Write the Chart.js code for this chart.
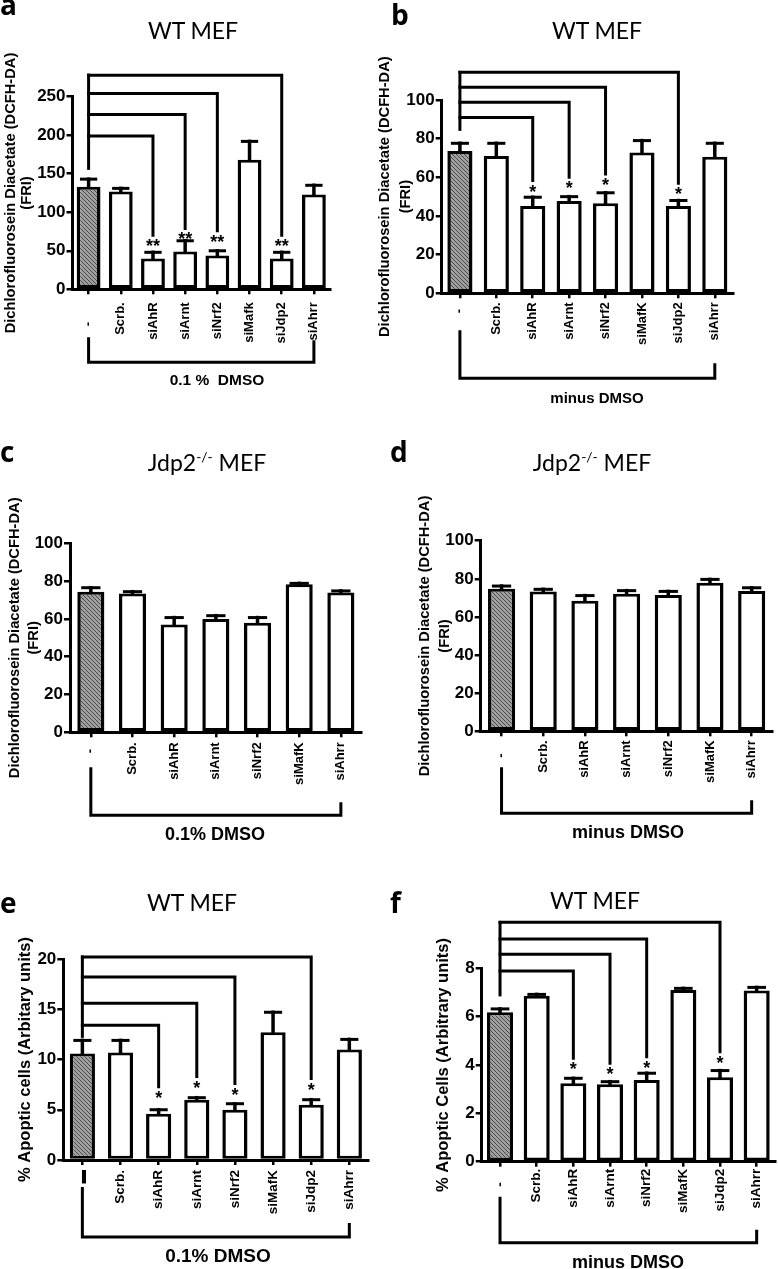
<!DOCTYPE html>
<html>
<head>
<meta charset="utf-8">
<script src="https://cdn.jsdelivr.net/npm/chart.js@4.4.1/dist/chart.umd.min.js"></script>
<style>
    body { margin: 0; background: #fff; }
    #fig { position: relative; width: 778px; height: 1269px; overflow: hidden; font-family: 'Liberation Sans', Arial, sans-serif; color: #000; }
    canvas { position: absolute; }
    .letter { position: absolute; font: bold 28px 'Open Sans', sans-serif; line-height: 28px; }
    .ttl { position: absolute; transform: translate(-50%, -50%); font-family: Lato, sans-serif; font-size: 23px; line-height: 1; white-space: nowrap; }
    .ttl sup { font-size: 60%; vertical-align: 0.6em; line-height: 0; }
    .grp { position: absolute; transform: translate(-50%, -50%); font-weight: bold; line-height: 1; white-space: pre; }
</style>
</head>
<body>
<div id="fig">
    <canvas id="chart-a" width="389" height="400" style="left:0;top:0"></canvas>
    <canvas id="chart-b" width="408" height="410" style="left:370px;top:0"></canvas>
    <canvas id="chart-c" width="389" height="400" style="left:0;top:420px"></canvas>
    <canvas id="chart-d" width="378" height="400" style="left:400px;top:420px"></canvas>
    <canvas id="chart-e" width="389" height="429" style="left:0;top:840px"></canvas>
    <canvas id="chart-f" width="378" height="429" style="left:400px;top:840px"></canvas>

    <div class="letter" style="left:0;top:-10px">a</div>
    <div class="letter" style="left:391px;top:0">b</div>
    <div class="letter" style="left:0;top:437px">c</div>
    <div class="letter" style="left:390px;top:437px">d</div>
    <div class="letter" style="left:0;top:888px">e</div>
    <div class="letter" style="left:390px;top:888px">f</div>

    <div class="ttl" style="left:193px;top:30px">WT MEF</div>
    <div class="ttl" style="left:597px;top:30px">WT MEF</div>
    <div class="ttl" style="left:207px;top:462px">Jdp2<sup>-/-</sup> MEF</div>
    <div class="ttl" style="left:592px;top:462px">Jdp2<sup>-/-</sup> MEF</div>
    <div class="ttl" style="left:192px;top:902px">WT MEF</div>
    <div class="ttl" style="left:595px;top:900px">WT MEF</div>

    <div class="grp" style="left:217px;top:380px;font-size:15.5px">0.1 %  DMSO</div>
    <div class="grp" style="left:597px;top:397px;font-size:15px">minus DMSO</div>
    <div class="grp" style="left:215px;top:834px;font-size:18px">0.1% DMSO</div>
    <div class="grp" style="left:628px;top:832px;font-size:18px">minus DMSO</div>
    <div class="grp" style="left:218px;top:1255px;font-size:19px">0.1% DMSO</div>
    <div class="grp" style="left:628px;top:1262px;font-size:18px">minus DMSO</div>
</div>

<script>
// categories
const labelsA = ['-', 'Scrb.', 'siAhR', 'siArnt', 'siNrf2', 'siMafk', 'siJdp2', 'siAhrr'];
const labelsWT = ['-', 'Scrb.', 'siAhR', 'siArnt', 'siNrf2', 'siMafK', 'siJdp2', 'siAhrr'];
const labelsKO = ['-', 'Scrb.', 'siAhR', 'siArnt', 'siNrf2', 'siMafK', 'siAhrr'];

// a: WT MEF, DCFH-DA, 0.1 % DMSO
const meanA = [133, 127, 40, 49, 44, 168, 40, 123];
const semA = [10, 4, 8, 14, 6, 24, 8, 12];
// b: WT MEF, DCFH-DA, minus DMSO
const meanB = [73.6, 71, 45.2, 47.8, 46.6, 72.8, 45.2, 70.7];
const semB = [4, 6.6, 4.5, 2.2, 5.4, 6.2, 2.8, 6.9];
// c: Jdp2-/- MEF, 0.1% DMSO
const meanC = [74.4, 73.5, 57.1, 60, 58, 78.3, 74];
const semC = [2.1, 0.9, 3.6, 1.7, 2.7, 0.5, 0.8];
// d: Jdp2-/- MEF, minus DMSO
const meanD = [74.8, 73.3, 68.5, 72.2, 71.5, 78, 73.6];
const semD = [1.4, 1.2, 2.7, 1.6, 1.9, 1.7, 1.7];
// e: apoptotic cells, 0.1% DMSO
const meanE = [10.6, 10.7, 4.6, 6.0, 5.0, 12.7, 5.5, 11.0];
const semE = [1.3, 1.2, 0.4, 0.2, 0.6, 2.0, 0.5, 1.0];
// f: apoptotic cells, minus DMSO
const meanF = [6.18, 6.86, 3.24, 3.2, 3.38, 7.1, 3.49, 7.08];
const semF = [0.14, 0.06, 0.21, 0.11, 0.28, 0.07, 0.28, 0.13];

// y ticks
const ticksA = [0, 50, 100, 150, 200, 250];
const ticks100 = [0, 20, 40, 60, 80, 100];
const ticksE = [0, 5, 10, 15, 20];
const ticksF = [0, 2, 4, 6, 8];

// comparisons against "-" (bracket height, where the drop ends, stem end)
const cmpTargets = ['siAhR', 'siArnt', 'siNrf2', 'siJdp2'];
const levelA = [199, 227, 254, 278];
const dropA = [70, 79, 76, 70];
const levelB = [90.9, 98.8, 106.6, 114.3];
const dropB = [58.3, 60, 61.7, 56.9];
const levelE = [13.4, 15.6, 18.2, 20.2];
const dropE = [7.3, 8.3, 7.6, 8.1];
const levelF = [7.89, 8.58, 9.21, 9.9];
const dropF = [4.28, 4.07, 4.34, 4.55];

const dcfTitle = ['Dichlorofluorosein Diacetate (DCFH-DA)', '(FRI)'];

Chart.defaults.font.family = "'Liberation Sans', Arial, sans-serif";
Chart.defaults.color = '#000';
Chart.defaults.animation = false;

function hatch() {
    const c = document.createElement('canvas');
    c.width = 4; c.height = 4;
    const g = c.getContext('2d');
    g.fillStyle = '#a0a0a0';
    g.fillRect(0, 0, 4, 4);
    g.strokeStyle = '#4a4a4a';
    g.lineWidth = 1;
    g.beginPath();
    g.moveTo(0, 0); g.lineTo(4, 4);
    g.moveTo(-1, 3); g.lineTo(1, 5);
    g.moveTo(3, -1); g.lineTo(5, 1);
    g.stroke();
    return g.createPattern(c, 'repeat');
}

// error bars, significance brackets and the group bracket under the axis
const annot = {
    id: 'annot',
    afterDatasetsDraw(chart, args, o) {
        const ctx = chart.ctx, x = chart.scales.x, y = chart.scales.y;
        const labels = chart.data.labels;
        const mean = chart.data.datasets[0].data;
        ctx.save();
        ctx.strokeStyle = '#000';
        ctx.fillStyle = '#000';
        ctx.lineCap = 'square';
        chart.getDatasetMeta(0).data.forEach((bar, i) => {
            const top = y.getPixelForValue(mean[i] + o.sem[i]);
            const half = bar.width * 0.3;
            ctx.lineWidth = 3.5;
            ctx.beginPath(); ctx.moveTo(bar.x, bar.y); ctx.lineTo(bar.x, top); ctx.stroke();
            ctx.lineWidth = 3;
            ctx.beginPath(); ctx.moveTo(bar.x - half, top); ctx.lineTo(bar.x + half, top); ctx.stroke();
        });
        const b = o.brackets;
        if (b) {
            const x0 = x.getPixelForValue(0);
            ctx.lineWidth = 3;
            ctx.font = "bold 18px 'Liberation Sans'";
            ctx.textAlign = 'center';
            ctx.textBaseline = 'top';
            b.level.forEach((lv, k) => {
                const xi = x.getPixelForValue(labels.indexOf(cmpTargets[k]));
                const yl = y.getPixelForValue(lv), yd = y.getPixelForValue(b.drop[k]);
                ctx.beginPath(); ctx.moveTo(x0, yl); ctx.lineTo(xi, yl); ctx.lineTo(xi, yd); ctx.stroke();
                ctx.fillText(b.star, xi, yd + 3);
            });
            ctx.beginPath();
            ctx.moveTo(x0, y.getPixelForValue(Math.max(...b.level)));
            ctx.lineTo(x0, y.getPixelForValue(b.stem));
            ctx.stroke();
        }
        const g = o.group, base = x.top;
        const xf = x.getPixelForValue(0), xl = x.getPixelForValue(labels.length - 1);
        ctx.lineWidth = 3;
        ctx.lineCap = 'butt';
        ctx.beginPath();
        ctx.moveTo(xf, base + g[0]); ctx.lineTo(xf, base + g[2]);
        ctx.lineTo(xl, base + g[2]); ctx.lineTo(xl, base + g[1]);
        ctx.stroke();
        ctx.restore();
    }
};

const panels = [
    { id: 'chart-a', labels: labelsA, mean: meanA, sem: semA, ticks: ticksA, first: '-\u2002\u2002\u2002',
      title: dcfTitle, tSize: 14.7, lh: 1.09, tPad: 3, box: [0, 0, 389, 400], area: [72.5, 96.7, 330, 289.3],
      xPad: 8, pct: 0.74, xSize: 13,
      brackets: { level: levelA, drop: dropA, stem: 157, star: '**' }, group: [48, 51, 73] },
    { id: 'chart-b', labels: labelsWT, mean: meanB, sem: semB, ticks: ticks100, first: '-\u2002',
      title: dcfTitle, tSize: 14.7, lh: 1.43, tPad: 4.5, box: [370, 0, 408, 410], area: [441.7, 100, 733, 293.3],
      xPad: 4, pct: 0.69, xSize: 13,
      brackets: { level: levelB, drop: dropB, stem: 84.8, star: '*' }, group: [37, 70, 85] },
    { id: 'chart-c', labels: labelsKO, mean: meanC, sem: semC, ticks: ticks100, first: '-\u2002',
      title: dcfTitle, tSize: 14.7, lh: 1.29, tPad: 5.5, box: [0, 420, 389, 400], area: [70, 543.3, 361.7, 732.3],
      xPad: 5, pct: 0.65, xSize: 13, group: [35, 70, 83] },
    { id: 'chart-d', labels: labelsKO, mean: meanD, sem: semD, ticks: ticks100, first: '-\u2002\u2002',
      title: dcfTitle, tSize: 14.7, lh: 1.36, tPad: 15, box: [400, 420, 378, 400], area: [480.7, 540.7, 772.5, 731.3],
      xPad: 4, pct: 0.65, xSize: 13, group: [36, 69, 82] },
    { id: 'chart-e', labels: labelsWT, mean: meanE, sem: semE, ticks: ticksE, first: '\u25AC',
      title: '% Apoptic cells (Arbitary units)', tSize: 16.5, lh: 1.2, tPad: 15.1, box: [0, 840, 389, 429], area: [63.3, 959, 368.4, 1160],
      xPad: 5, pct: 0.66, xSize: 13.5,
      brackets: { level: levelE, drop: dropE, stem: 12.3, star: '*' }, group: [27, 63, 77] },
    { id: 'chart-f', labels: labelsWT, mean: meanF, sem: semF, ticks: ticksF, first: '-\u2002\u2002',
      title: '% Apoptic Cells (Arbitrary units)', tSize: 16.5, lh: 1.2, tPad: 33.1, box: [400, 840, 378, 429], area: [481.7, 968.3, 775, 1161.7],
      xPad: 2, pct: 0.71, xSize: 13.5,
      brackets: { level: levelF, drop: dropF, stem: 6.9, star: '*' }, group: [35, 68, 81] }
];

panels.forEach(p => {
    const [bx, by, bw, bh] = p.box;
    const [left, top, right, bottom] = p.area;
    const ctx = document.getElementById(p.id);
    new Chart(ctx, {
        type: 'bar',
        data: {
            labels: p.labels,
            datasets: [{
                data: p.mean,
                backgroundColor: p.mean.map((v, i) => i === 0 ? hatch() : '#fff'),
                borderColor: '#000',
                borderWidth: { left: 3.5, right: 3.5, top: 3, bottom: 3 },
                borderSkipped: false,
                categoryPercentage: 1,
                barPercentage: p.pct
            }]
        },
        options: {
            responsive: false,
            layout: { padding: { left: 0, top: top - by, right: bx + bw - right, bottom: 0 } },
            plugins: {
                legend: { display: false },
                tooltip: { enabled: false },
                annot: { sem: p.sem, brackets: p.brackets, group: p.group }
            },
            scales: {
                x: {
                    afterFit: s => { s.height = by + bh - bottom; },
                    border: { display: true, color: '#000', width: 3 },
                    grid: { display: true, offset: false, drawOnChartArea: false, tickLength: 5, color: '#000', lineWidth: 2.5 },
                    ticks: {
                        autoSkip: false, maxRotation: 90, minRotation: 90, padding: p.xPad,
                        font: { weight: 'bold', size: p.xSize },
                        callback: function (v, i) { return i === 0 ? p.first : this.getLabelForValue(v); }
                    }
                },
                y: {
                    min: 0,
                    max: p.ticks[p.ticks.length - 1],
                    afterFit: s => { s.width = left - bx; },
                    afterBuildTicks: s => { s.ticks = p.ticks.map(v => ({ value: v })); },
                    border: { display: true, color: '#000', width: 3 },
                    grid: { display: true, drawOnChartArea: false, tickLength: 6, color: '#000', lineWidth: 2.5 },
                    ticks: { padding: 1, font: { weight: 'bold', size: 17 } },
                    title: {
                        display: true, text: p.title, padding: { top: p.tPad, bottom: 0 },
                        font: { weight: 'bold', size: p.tSize, lineHeight: p.lh }
                    }
                }
            }
        },
        plugins: [annot]
    });
});
</script>
</body>
</html>
